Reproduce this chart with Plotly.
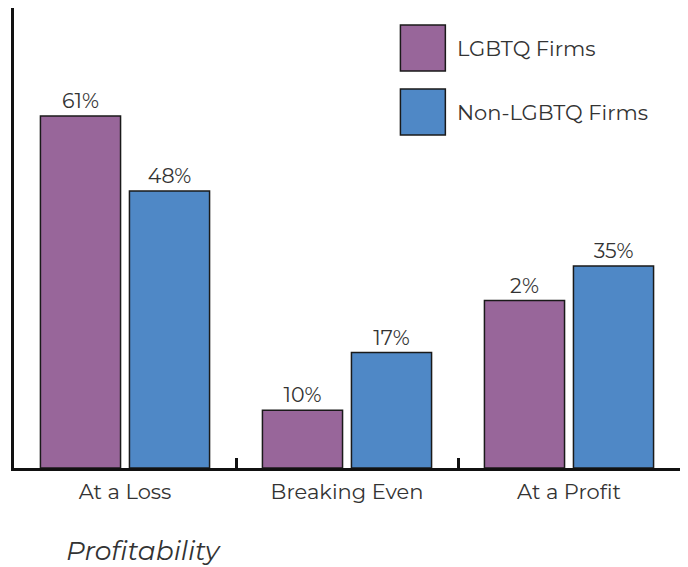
import plotly.graph_objects as go

categories = ["At a Loss", "Breaking Even", "At a Profit"]
lgbtq_values = [61, 10, 29]
lgbtq_labels = ["61%", "10%", "2%"]
non_lgbtq_values = [48, 20, 35]
non_lgbtq_labels = ["48%", "17%", "35%"]
series_names = ["LGBTQ Firms", "Non-LGBTQ Firms"]
colors = ["#98669A", "#4F88C6"]

FONT = "Montserrat, Lato, Open Sans, sans-serif"
TXT = "#333333"

fig = go.Figure()
for name, vals, labs, col in [
    (series_names[0], lgbtq_values, lgbtq_labels, colors[0]),
    (series_names[1], non_lgbtq_values, non_lgbtq_labels, colors[1]),
]:
    fig.add_trace(go.Bar(
        x=categories, y=vals, name=name, text=labs,
        textposition="outside", cliponaxis=False,
        textfont=dict(family=FONT, size=20.5, color=TXT),
        marker=dict(color=col, line=dict(color="#1a1a1a", width=1.5)),
        showlegend=False,
    ))

# custom legend (large swatches)
for i, (name, col) in enumerate(zip(series_names, colors)):
    y0 = 1 - (25 + i * 64) / 460 + 8 / 460
    fig.add_shape(type="rect", xref="paper", yref="paper",
                  x0=(400 - 13) / 667, x1=(445 - 13) / 667,
                  y0=y0 - 46 / 460, y1=y0,
                  fillcolor=col, line=dict(color="#1a1a1a", width=1.5))
    fig.add_annotation(xref="paper", yref="paper",
                       x=(455 - 13) / 667, y=y0 - 23 / 460,
                       text=name, showarrow=False, xanchor="left", yanchor="middle",
                       font=dict(family=FONT, size=21, color=TXT))

fig.add_annotation(xref="paper", yref="paper", x=(63 - 13) / 667, y=-(550 - 468) / 460,
                   text="<i>Profitability</i>", showarrow=False,
                   xanchor="left", yanchor="middle",
                   font=dict(family=FONT, size=26.5, color=TXT))

fig.update_layout(
    width=688, height=567,
    margin=dict(l=14, r=8, t=8, b=99),
    plot_bgcolor="white", paper_bgcolor="white",
    barmode="group", bargap=0.198, bargroupgap=0.1,
    xaxis=dict(showline=True, linecolor="#111", linewidth=3,
               ticks="inside", tickson="boundaries", ticklen=10, tickwidth=2.5,
               tickcolor="#111", showgrid=False, ticklabelstandoff=3,
               tickfont=dict(family=FONT, size=21, color=TXT)),
    yaxis=dict(range=[0, 79.7], showline=True, linecolor="#111", linewidth=3,
               showticklabels=False, ticks="", showgrid=False, zeroline=False),
)

fig.write_html("out.html", config={"displayModeBar": False},
               post_script="document.body.style.margin='0';document.body.style.overflow='hidden';")
